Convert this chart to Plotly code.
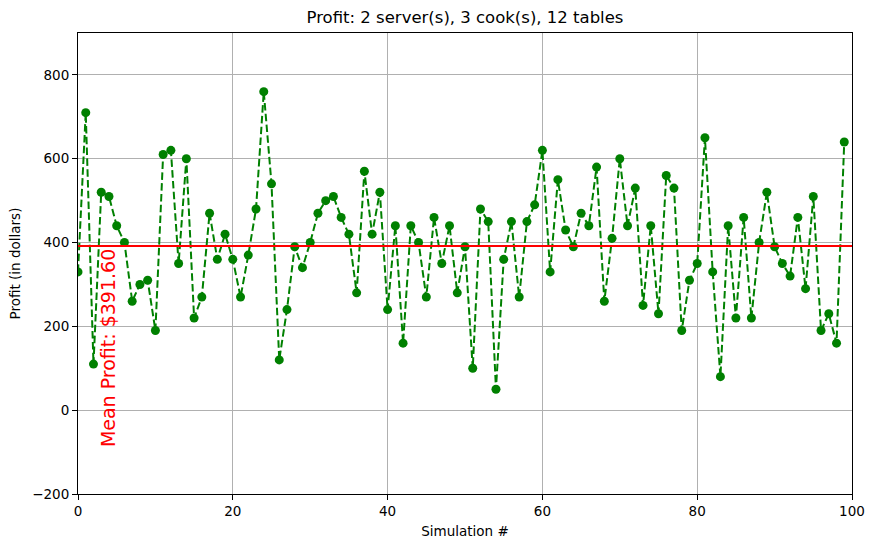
import plotly.graph_objects as go
import numpy as np

# profit per simulation run
simulation = list(range(100))
profits = [
    330, 710, 110, 520, 510, 440, 400, 260, 300, 310,
    190, 610, 620, 350, 600, 220, 270, 470, 360, 420,
    360, 270, 370, 480, 760, 540, 120, 240, 390, 340,
    400, 470, 500, 510, 460, 420, 280, 570, 420, 520,
    240, 440, 160, 440, 400, 270, 460, 350, 440, 280,
    390, 100, 480, 450, 50, 360, 450, 270, 450, 490,
    620, 330, 550, 430, 390, 470, 440, 580, 260, 410,
    600, 440, 530, 250, 440, 230, 560, 530, 190, 310,
    350, 650, 330, 80, 440, 220, 460, 220, 400, 520,
    390, 350, 320, 460, 290, 510, 190, 230, 160, 640,
]
x_ticks = [0, 20, 40, 60, 80, 100]
y_ticks = [-200, 0, 200, 400, 600, 800]

mean_profit = np.mean(profits)

FONT = "DejaVu Sans"

fig = go.Figure()
fig.add_trace(go.Scatter(
    x=simulation, y=profits, mode="lines+markers",
    line=dict(color="#008000", width=2, dash="7.5px,3.3px"),
    marker=dict(color="#008000", size=9),
    showlegend=False,
))

# mean line
fig.add_hline(y=mean_profit, line=dict(color="red", width=2))
fig.add_annotation(
    x=3.87, y=148, xref="x", yref="y",
    text=f"Mean Profit: ${mean_profit:.2f}",
    textangle=-90, showarrow=False,
    xanchor="center", yanchor="middle",
    font=dict(family=FONT, size=19, color="red"),
)

axis_common = dict(
    showline=True, mirror=True, linecolor="black", linewidth=1,
    ticks="outside", ticklen=5, tickcolor="black",
    showgrid=True, gridcolor="#b0b0b0", gridwidth=1,
    zeroline=False, automargin=False,
    tickfont=dict(family=FONT, size=13.5, color="black"),
)

fig.update_xaxes(
    range=[0, 100], tickvals=x_ticks,
    title=dict(text="Simulation #", font=dict(family=FONT, size=13.5, color="black"), standoff=8),
    **axis_common,
)
fig.update_yaxes(
    range=[-200, 900], tickvals=y_ticks,
    tickformat="d",
    title=dict(text="Profit (in dollars)", font=dict(family=FONT, size=13.5, color="black"), standoff=8),
    **axis_common,
)

fig.update_layout(
    width=875, height=547,
    margin=dict(l=77.5, r=22.5, t=32.5, b=53),
    paper_bgcolor="white", plot_bgcolor="white",
    title=dict(
        text="Profit: 2 server(s), 3 cook(s), 12 tables",
        xref="paper", x=0.5, xanchor="center",
        yref="container", y=1 - 17 / 547, yanchor="middle",
        font=dict(family=FONT, size=16.5, color="black"),
    ),
    font=dict(family=FONT),
)

# drop the browser's default page margin so the figure sits at 0,0
fig.write_html(
    "out.html",
    config={"displayModeBar": False},
    post_script="document.body.style.margin='0px';",
)
